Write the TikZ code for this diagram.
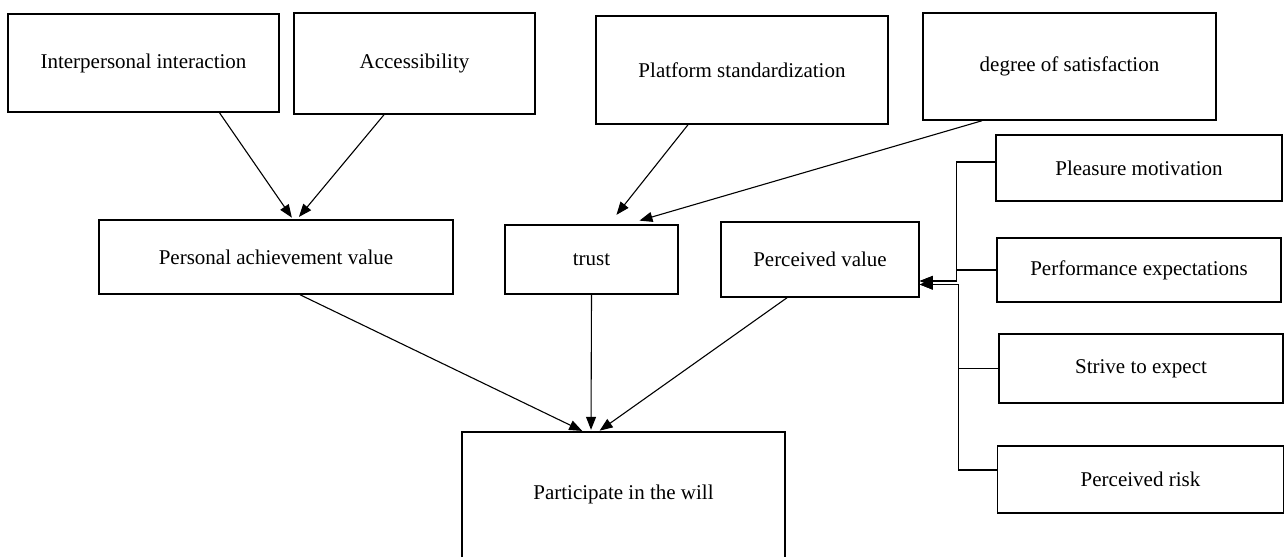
\documentclass[tikz,border=0pt]{standalone}
\usepackage{fontspec}
\setmainfont{Liberation Serif}
\usepackage{tikz}
\usetikzlibrary{arrows.meta}
\tikzset{
	boxstyle/.style={rectangle,draw=black,line width=1.5pt,fill=white,inner sep=0pt,align=center},
	openstyle/.style={rectangle,inner sep=0pt,align=center},
	arrowstyle/.style={draw=black,line width=1.1pt,-{Triangle[length=13pt,width=10pt]}},
	joinstyle/.style={draw=black,line width=1.1pt,-{Triangle[length=13pt,width=10pt]}}
}

\begin{document}
\begin{tikzpicture}[x=1pt,y=-1pt]
		\fontsize{21}{25}\selectfont
		\useasboundingbox (0,0) rectangle (1284,557);
		\node[boxstyle,minimum width=271pt,minimum height=98pt] (ii) at (143.5,63) {Interpersonal interaction};
		\node[boxstyle,minimum width=241pt,minimum height=101pt] (acc) at (414.5,63.5) {Accessibility};
		\node[boxstyle,minimum width=292pt,minimum height=108pt] (ps) at (742,70) {Platform standardization};
		\node[boxstyle,minimum width=293pt,minimum height=107pt] (ds) at (1069.5,66.5) {degree of satisfaction};
		\node[boxstyle,minimum width=354pt,minimum height=74pt] (pav) at (276,257) {Personal achievement value};
		\node[boxstyle,minimum width=173pt,minimum height=69pt] (trust) at (591.5,259.5) {trust};
		\node[boxstyle,minimum width=198pt,minimum height=75pt] (pv) at (820,259.5) {Perceived value};
		\node[boxstyle,minimum width=286pt,minimum height=66pt] (pm) at (1139,168) {Pleasure motivation};
		\node[boxstyle,minimum width=284pt,minimum height=64pt] (pe) at (1139,270) {Performance expectations};
		\node[boxstyle,minimum width=284pt,minimum height=69pt] (se) at (1141,368.5) {Strive to expect};
		\node[boxstyle,minimum width=286pt,minimum height=67pt] (pr) at (1140.5,479.5) {Perceived risk};
		\node[openstyle,minimum width=323pt,minimum height=125pt] (piw) at (623.5,494.5) {Participate in the will};
		\draw[line width=1.5pt] (piw.south west) |- (piw.north east) -- (piw.south east);
		\draw[arrowstyle,shorten >=2pt] ([xshift=76pt]ii.south) -- ([xshift=17pt]pav.north);
		\draw[arrowstyle,shorten >=3pt] ([xshift=-30.5pt]acc.south) -- ([xshift=21pt]pav.north);
		\draw[arrowstyle,shorten >=12pt] ([xshift=-54pt]ps.south) -- ([xshift=17.5pt]trust.north);
		\draw[arrowstyle,shorten >=13pt] ([xshift=-87.5pt]ds.south) -- ([xshift=35.5pt]trust.north);
		\draw[arrowstyle,shorten >=2pt] ([xshift=24pt]pav.south) -- ([xshift=-39.5pt]piw.north);
		\draw[arrowstyle,shorten >=2pt] (trust.south) -- ([xshift=-32.5pt]piw.north);
		\draw[arrowstyle,shorten >=2pt] ([xshift=-33pt]pv.south) -- ([xshift=-25.5pt]piw.north);
		\draw[joinstyle] ([yshift=6pt]pm.west) -- ++(-39pt,0) |- ([yshift=-21.5pt]pv.east);
		\draw[joinstyle] (pe.west) -- ++(-40pt,0) |- ([yshift=-21.5pt]pv.east);
		\draw[joinstyle] (se.west) -- ++(-40pt,0) |- ([yshift=-25pt]pv.east);
		\draw[joinstyle] ([yshift=9.5pt]pr.west) -- ++(-38.5pt,0) |- ([yshift=-25pt]pv.east);
		\end{tikzpicture}
\end{document}
